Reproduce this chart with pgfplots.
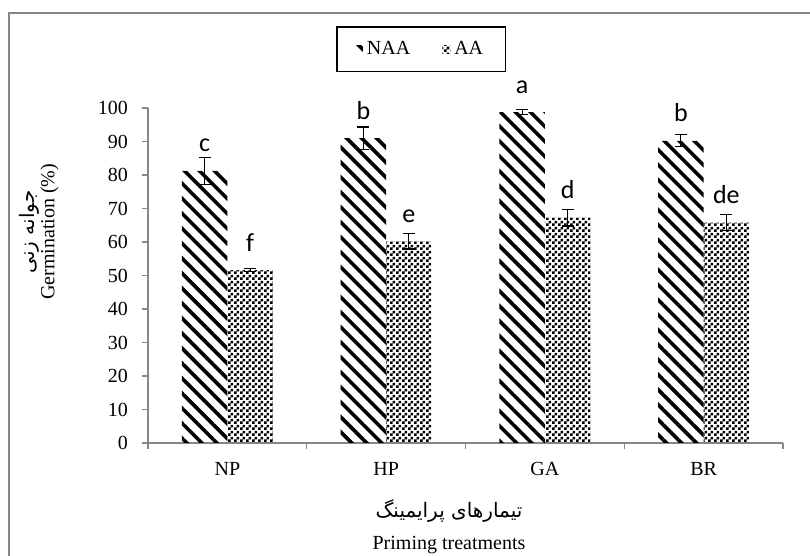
\documentclass[border=0pt]{standalone}
\usepackage{pgfplots}
\pgfplotsset{compat=1.18}
\usepackage{fontspec}
\setmainfont{Liberation Serif}
\newfontfamily\arabicfont[Script=Arabic]{DejaVu Sans}
\newfontfamily\letterfont{Carlito}
\usetikzlibrary{patterns,patterns.meta}
\TeXXeTstate=1

% checkerboard for the AA bars
\pgfdeclarepatternformonly{smallchecker}{\pgfqpoint{0pt}{0pt}}{\pgfqpoint{3pt}{3pt}}{\pgfqpoint{3pt}{3pt}}{%
  \pgfpathrectangle{\pgfpointorigin}{\pgfqpoint{1.5pt}{1.5pt}}%
  \pgfpathrectangle{\pgfqpoint{1.5pt}{1.5pt}}{\pgfqpoint{1.5pt}{1.5pt}}%
  \pgfusepath{fill}}

\definecolor{axgray}{RGB}{134,134,134}

% treatment, mean, error, letter
\pgfplotstableread{
x y e l
0 81.2 4.0 c
1 91.0 3.3 b
2 98.8 0.8 a
3 90.2 1.8 b
}\naa
\pgfplotstableread{
x y e l
0 51.6 0.5 f
1 60.2 2.3 e
2 67.3 2.5 d
3 65.8 2.3 de
}\aa

\begin{document}
\begin{tikzpicture}
\useasboundingbox (0,0) rectangle (405pt,278pt);
% frame of the figure
\draw[axgray, line width=0.8pt] (4.5pt,0) -- (4.5pt,271.5pt) -- (406pt,271.5pt);
\begin{axis}[
    at={(74pt,56.5pt)}, anchor=south west,
    width=317.5pt, height=167.5pt, scale only axis,
    ybar=0pt, bar width=22.75pt,
    xmin=-0.5, xmax=3.5,
    ymin=0, ymax=100,
    ytick={0,10,...,100},
    xtick={0,1,2,3},
    xticklabels={NP,HP,GA,BR},
    minor xtick={-0.5,0.5,1.5,2.5,3.5},
    major x tick style={draw=none},
    axis lines*=left,
    axis line style={axgray, line width=0.6pt},
    tick style={axgray, line width=0.6pt},
    tick align=outside,
    major tick length=3pt, minor tick length=3pt,
    /pgf/number format/assume math mode=true,
    yticklabel style={xshift=-3.5pt},
    xticklabel style={yshift=-3pt},
    xlabel={\arabicfont\beginR تیمارهای پرایمینگ\endR\\[4pt]Priming treatments},
    xlabel style={at={(axis description cs:0.474,-0.25)}, anchor=center, align=center},
    ylabel={\arabicfont\beginR جوانه زنی\endR\\[-2pt]Germination (\%)},
    ylabel style={at={(axis description cs:-0.172,0.63)}, anchor=center, align=center},
    legend columns=2,
    legend style={at={(0.43,1.176)}, anchor=center, draw=black, line width=0.6pt,
        inner xsep=9pt, inner ysep=5pt,
        /tikz/every even column/.append style={column sep=14pt}},
    legend image code/.code={\fill[#1] (0pt,-2pt) rectangle (4pt,2pt);},
    nodes near coords,
    point meta=explicit symbolic,
    every node near coord/.append style={font=\letterfont\fontsize{13}{15}\selectfont,
        anchor=base, inner sep=0pt, yshift=9.5pt, black},
    error bars/error bar style={black, line width=0.6pt},
    error bars/error mark options={rotate=90, mark size=3pt, black, line width=0.6pt},
]
\addplot[draw=none, pattern={Lines[angle=-45,distance=5.3pt,line width=1.8pt]},
    error bars/.cd, y dir=both, y explicit]
    table[x=x, y=y, y error=e, meta=l] {\naa};
\addlegendentry{NAA}
\addplot[draw=none, pattern=smallchecker,
    error bars/.cd, y dir=both, y explicit]
    table[x=x, y=y, y error=e, meta=l] {\aa};
\addlegendentry{AA}
\end{axis}
\end{tikzpicture}
\end{document}
